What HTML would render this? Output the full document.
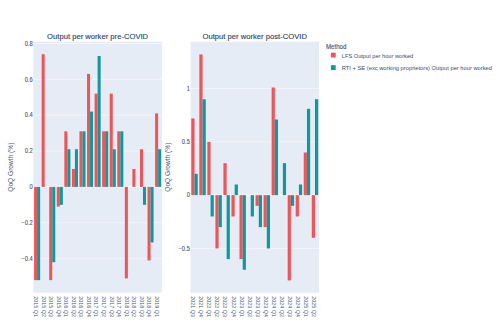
<!DOCTYPE html>
<html><head><meta charset="utf-8"><style>
html,body{margin:0;padding:0;background:#fff;width:500px;height:333px;overflow:hidden}
svg{display:block}
</style></head><body>
<svg width="500" height="333" viewBox="0 0 500 333">
<rect width="500" height="333" fill="#fff"/>
<rect x="33.33" y="41.67" width="128.57" height="251.03" fill="#E5ECF6"/>
<line x1="33.33" x2="161.9" y1="43.46" y2="43.46" stroke="#fff" stroke-width="0.5"/>
<line x1="33.33" x2="161.9" y1="79.32" y2="79.32" stroke="#fff" stroke-width="0.5"/>
<line x1="33.33" x2="161.9" y1="115.18" y2="115.18" stroke="#fff" stroke-width="0.5"/>
<line x1="33.33" x2="161.9" y1="151.04" y2="151.04" stroke="#fff" stroke-width="0.5"/>
<line x1="33.33" x2="161.9" y1="222.76" y2="222.76" stroke="#fff" stroke-width="0.5"/>
<line x1="33.33" x2="161.9" y1="258.62" y2="258.62" stroke="#fff" stroke-width="0.5"/>
<line x1="33.33" x2="161.9" y1="186.90" y2="186.90" stroke="#fff" stroke-width="0.9"/>
<rect x="34.09" y="186.90" width="3.03" height="93.24" fill="#EC5658"/>
<rect x="37.11" y="186.90" width="3.03" height="93.24" fill="#12979B"/>
<rect x="41.65" y="54.22" width="3.03" height="132.68" fill="#EC5658"/>
<rect x="49.21" y="186.90" width="3.03" height="93.24" fill="#EC5658"/>
<rect x="52.24" y="186.90" width="3.03" height="75.31" fill="#12979B"/>
<rect x="56.78" y="186.90" width="3.03" height="19.72" fill="#EC5658"/>
<rect x="59.80" y="186.90" width="3.03" height="17.93" fill="#12979B"/>
<rect x="64.34" y="131.32" width="3.03" height="55.58" fill="#EC5658"/>
<rect x="67.36" y="149.25" width="3.03" height="37.65" fill="#12979B"/>
<rect x="71.90" y="168.97" width="3.03" height="17.93" fill="#EC5658"/>
<rect x="74.93" y="149.25" width="3.03" height="37.65" fill="#12979B"/>
<rect x="79.46" y="131.32" width="3.03" height="55.58" fill="#EC5658"/>
<rect x="82.49" y="131.32" width="3.03" height="55.58" fill="#12979B"/>
<rect x="87.03" y="73.94" width="3.03" height="112.96" fill="#EC5658"/>
<rect x="90.05" y="111.59" width="3.03" height="75.31" fill="#12979B"/>
<rect x="94.59" y="93.66" width="3.03" height="93.24" fill="#EC5658"/>
<rect x="97.61" y="56.01" width="3.03" height="130.89" fill="#12979B"/>
<rect x="102.15" y="131.32" width="3.03" height="55.58" fill="#EC5658"/>
<rect x="105.18" y="131.32" width="3.03" height="55.58" fill="#12979B"/>
<rect x="109.72" y="93.66" width="3.03" height="93.24" fill="#EC5658"/>
<rect x="112.74" y="149.25" width="3.03" height="37.65" fill="#12979B"/>
<rect x="117.28" y="131.32" width="3.03" height="55.58" fill="#EC5658"/>
<rect x="120.30" y="131.32" width="3.03" height="55.58" fill="#12979B"/>
<rect x="124.84" y="186.90" width="3.03" height="91.44" fill="#EC5658"/>
<rect x="132.40" y="168.97" width="3.03" height="17.93" fill="#EC5658"/>
<rect x="139.97" y="149.25" width="3.03" height="37.65" fill="#EC5658"/>
<rect x="142.99" y="186.90" width="3.03" height="17.93" fill="#12979B"/>
<rect x="147.53" y="186.90" width="3.03" height="73.51" fill="#EC5658"/>
<rect x="150.56" y="186.90" width="3.03" height="55.58" fill="#12979B"/>
<rect x="155.09" y="113.39" width="3.03" height="73.51" fill="#EC5658"/>
<rect x="158.12" y="149.25" width="3.03" height="37.65" fill="#12979B"/>
<text x="32.73" y="45.71" text-anchor="end" font-size="6.3" textLength="8.06" lengthAdjust="spacingAndGlyphs" stroke="#4a5a78" stroke-width="0.12" fill="#4a5a78" font-family="Liberation Sans, sans-serif">0.8</text>
<text x="32.73" y="81.57" text-anchor="end" font-size="6.3" textLength="8.06" lengthAdjust="spacingAndGlyphs" stroke="#4a5a78" stroke-width="0.12" fill="#4a5a78" font-family="Liberation Sans, sans-serif">0.6</text>
<text x="32.73" y="117.43" text-anchor="end" font-size="6.3" textLength="8.06" lengthAdjust="spacingAndGlyphs" stroke="#4a5a78" stroke-width="0.12" fill="#4a5a78" font-family="Liberation Sans, sans-serif">0.4</text>
<text x="32.73" y="153.29" text-anchor="end" font-size="6.3" textLength="8.06" lengthAdjust="spacingAndGlyphs" stroke="#4a5a78" stroke-width="0.12" fill="#4a5a78" font-family="Liberation Sans, sans-serif">0.2</text>
<text x="32.73" y="189.15" text-anchor="end" font-size="6.3" textLength="3.22" lengthAdjust="spacingAndGlyphs" stroke="#4a5a78" stroke-width="0.12" fill="#4a5a78" font-family="Liberation Sans, sans-serif">0</text>
<text x="32.73" y="225.01" text-anchor="end" font-size="6.3" textLength="11.45" lengthAdjust="spacingAndGlyphs" stroke="#4a5a78" stroke-width="0.12" fill="#4a5a78" font-family="Liberation Sans, sans-serif">−0.2</text>
<text x="32.73" y="260.87" text-anchor="end" font-size="6.3" textLength="11.45" lengthAdjust="spacingAndGlyphs" stroke="#4a5a78" stroke-width="0.12" fill="#4a5a78" font-family="Liberation Sans, sans-serif">−0.4</text>
<text transform="translate(33.96,296.30) rotate(90)" font-size="6.0" textLength="20.6" lengthAdjust="spacingAndGlyphs" fill="#4a5a78" font-family="Liberation Sans, sans-serif">2015 Q1</text>
<text transform="translate(41.52,296.30) rotate(90)" font-size="6.0" textLength="20.6" lengthAdjust="spacingAndGlyphs" fill="#4a5a78" font-family="Liberation Sans, sans-serif">2015 Q2</text>
<text transform="translate(49.09,296.30) rotate(90)" font-size="6.0" textLength="20.6" lengthAdjust="spacingAndGlyphs" fill="#4a5a78" font-family="Liberation Sans, sans-serif">2015 Q3</text>
<text transform="translate(56.65,296.30) rotate(90)" font-size="6.0" textLength="20.6" lengthAdjust="spacingAndGlyphs" fill="#4a5a78" font-family="Liberation Sans, sans-serif">2015 Q4</text>
<text transform="translate(64.21,296.30) rotate(90)" font-size="6.0" textLength="20.6" lengthAdjust="spacingAndGlyphs" fill="#4a5a78" font-family="Liberation Sans, sans-serif">2016 Q1</text>
<text transform="translate(71.78,296.30) rotate(90)" font-size="6.0" textLength="20.6" lengthAdjust="spacingAndGlyphs" fill="#4a5a78" font-family="Liberation Sans, sans-serif">2016 Q2</text>
<text transform="translate(79.34,296.30) rotate(90)" font-size="6.0" textLength="20.6" lengthAdjust="spacingAndGlyphs" fill="#4a5a78" font-family="Liberation Sans, sans-serif">2016 Q3</text>
<text transform="translate(86.90,296.30) rotate(90)" font-size="6.0" textLength="20.6" lengthAdjust="spacingAndGlyphs" fill="#4a5a78" font-family="Liberation Sans, sans-serif">2016 Q4</text>
<text transform="translate(94.46,296.30) rotate(90)" font-size="6.0" textLength="20.6" lengthAdjust="spacingAndGlyphs" fill="#4a5a78" font-family="Liberation Sans, sans-serif">2017 Q1</text>
<text transform="translate(102.03,296.30) rotate(90)" font-size="6.0" textLength="20.6" lengthAdjust="spacingAndGlyphs" fill="#4a5a78" font-family="Liberation Sans, sans-serif">2017 Q2</text>
<text transform="translate(109.59,296.30) rotate(90)" font-size="6.0" textLength="20.6" lengthAdjust="spacingAndGlyphs" fill="#4a5a78" font-family="Liberation Sans, sans-serif">2017 Q3</text>
<text transform="translate(117.15,296.30) rotate(90)" font-size="6.0" textLength="20.6" lengthAdjust="spacingAndGlyphs" fill="#4a5a78" font-family="Liberation Sans, sans-serif">2017 Q4</text>
<text transform="translate(124.72,296.30) rotate(90)" font-size="6.0" textLength="20.6" lengthAdjust="spacingAndGlyphs" fill="#4a5a78" font-family="Liberation Sans, sans-serif">2018 Q1</text>
<text transform="translate(132.28,296.30) rotate(90)" font-size="6.0" textLength="20.6" lengthAdjust="spacingAndGlyphs" fill="#4a5a78" font-family="Liberation Sans, sans-serif">2018 Q2</text>
<text transform="translate(139.84,296.30) rotate(90)" font-size="6.0" textLength="20.6" lengthAdjust="spacingAndGlyphs" fill="#4a5a78" font-family="Liberation Sans, sans-serif">2018 Q3</text>
<text transform="translate(147.41,296.30) rotate(90)" font-size="6.0" textLength="20.6" lengthAdjust="spacingAndGlyphs" fill="#4a5a78" font-family="Liberation Sans, sans-serif">2018 Q4</text>
<text transform="translate(154.97,296.30) rotate(90)" font-size="6.0" textLength="20.6" lengthAdjust="spacingAndGlyphs" fill="#4a5a78" font-family="Liberation Sans, sans-serif">2019 Q1</text>
<text x="97.62" y="39.35" text-anchor="middle" font-size="7.65" fill="#2f4262" stroke="#2f4262" stroke-width="0.12" font-family="Liberation Sans, sans-serif">Output per worker pre-COVID</text>
<text transform="translate(12.73,167.19) rotate(-90)" text-anchor="middle" font-size="6.6" fill="#4a5a78" font-family="Liberation Sans, sans-serif">QoQ Growth (%)</text>
<rect x="190.5" y="41.67" width="128.50" height="251.03" fill="#E5ECF6"/>
<line x1="190.5" x2="319.0" y1="88.55" y2="88.55" stroke="#fff" stroke-width="0.5"/>
<line x1="190.5" x2="319.0" y1="141.85" y2="141.85" stroke="#fff" stroke-width="0.5"/>
<line x1="190.5" x2="319.0" y1="248.45" y2="248.45" stroke="#fff" stroke-width="0.5"/>
<line x1="190.5" x2="319.0" y1="195.15" y2="195.15" stroke="#fff" stroke-width="0.9"/>
<rect x="191.30" y="118.40" width="3.21" height="76.75" fill="#EC5658"/>
<rect x="194.52" y="173.83" width="3.21" height="21.32" fill="#12979B"/>
<rect x="199.33" y="54.44" width="3.21" height="140.71" fill="#EC5658"/>
<rect x="202.55" y="99.21" width="3.21" height="95.94" fill="#12979B"/>
<rect x="207.37" y="141.85" width="3.21" height="53.30" fill="#EC5658"/>
<rect x="210.58" y="195.15" width="3.21" height="21.32" fill="#12979B"/>
<rect x="215.40" y="195.15" width="3.21" height="53.30" fill="#EC5658"/>
<rect x="218.61" y="195.15" width="3.21" height="31.98" fill="#12979B"/>
<rect x="223.43" y="163.17" width="3.21" height="31.98" fill="#EC5658"/>
<rect x="226.64" y="195.15" width="3.21" height="63.96" fill="#12979B"/>
<rect x="231.46" y="195.15" width="3.21" height="21.32" fill="#EC5658"/>
<rect x="234.67" y="184.49" width="3.21" height="10.66" fill="#12979B"/>
<rect x="239.49" y="195.15" width="3.21" height="63.96" fill="#EC5658"/>
<rect x="242.70" y="195.15" width="3.21" height="74.62" fill="#12979B"/>
<rect x="250.73" y="195.15" width="3.21" height="21.32" fill="#12979B"/>
<rect x="255.55" y="195.15" width="3.21" height="10.66" fill="#EC5658"/>
<rect x="258.77" y="195.15" width="3.21" height="31.98" fill="#12979B"/>
<rect x="263.58" y="195.15" width="3.21" height="31.98" fill="#EC5658"/>
<rect x="266.80" y="195.15" width="3.21" height="53.30" fill="#12979B"/>
<rect x="271.62" y="87.48" width="3.21" height="107.67" fill="#EC5658"/>
<rect x="274.83" y="119.46" width="3.21" height="75.69" fill="#12979B"/>
<rect x="282.86" y="163.17" width="3.21" height="31.98" fill="#12979B"/>
<rect x="287.68" y="195.15" width="3.21" height="85.28" fill="#EC5658"/>
<rect x="290.89" y="195.15" width="3.21" height="10.66" fill="#12979B"/>
<rect x="295.71" y="195.15" width="3.21" height="21.32" fill="#EC5658"/>
<rect x="298.92" y="184.49" width="3.21" height="10.66" fill="#12979B"/>
<rect x="303.74" y="152.51" width="3.21" height="42.64" fill="#EC5658"/>
<rect x="306.95" y="108.80" width="3.21" height="86.35" fill="#12979B"/>
<rect x="311.77" y="195.15" width="3.21" height="42.64" fill="#EC5658"/>
<rect x="314.98" y="99.21" width="3.21" height="95.94" fill="#12979B"/>
<text x="189.90" y="90.80" text-anchor="end" font-size="6.3" textLength="3.22" lengthAdjust="spacingAndGlyphs" stroke="#4a5a78" stroke-width="0.12" fill="#4a5a78" font-family="Liberation Sans, sans-serif">1</text>
<text x="189.90" y="144.10" text-anchor="end" font-size="6.3" textLength="8.06" lengthAdjust="spacingAndGlyphs" stroke="#4a5a78" stroke-width="0.12" fill="#4a5a78" font-family="Liberation Sans, sans-serif">0.5</text>
<text x="189.90" y="197.40" text-anchor="end" font-size="6.3" textLength="3.22" lengthAdjust="spacingAndGlyphs" stroke="#4a5a78" stroke-width="0.12" fill="#4a5a78" font-family="Liberation Sans, sans-serif">0</text>
<text x="189.90" y="250.70" text-anchor="end" font-size="6.3" textLength="11.45" lengthAdjust="spacingAndGlyphs" stroke="#4a5a78" stroke-width="0.12" fill="#4a5a78" font-family="Liberation Sans, sans-serif">−0.5</text>
<text transform="translate(191.37,296.30) rotate(90)" font-size="6.0" textLength="20.6" lengthAdjust="spacingAndGlyphs" fill="#4a5a78" font-family="Liberation Sans, sans-serif">2021 Q3</text>
<text transform="translate(199.40,296.30) rotate(90)" font-size="6.0" textLength="20.6" lengthAdjust="spacingAndGlyphs" fill="#4a5a78" font-family="Liberation Sans, sans-serif">2021 Q4</text>
<text transform="translate(207.43,296.30) rotate(90)" font-size="6.0" textLength="20.6" lengthAdjust="spacingAndGlyphs" fill="#4a5a78" font-family="Liberation Sans, sans-serif">2022 Q1</text>
<text transform="translate(215.46,296.30) rotate(90)" font-size="6.0" textLength="20.6" lengthAdjust="spacingAndGlyphs" fill="#4a5a78" font-family="Liberation Sans, sans-serif">2022 Q2</text>
<text transform="translate(223.49,296.30) rotate(90)" font-size="6.0" textLength="20.6" lengthAdjust="spacingAndGlyphs" fill="#4a5a78" font-family="Liberation Sans, sans-serif">2022 Q3</text>
<text transform="translate(231.52,296.30) rotate(90)" font-size="6.0" textLength="20.6" lengthAdjust="spacingAndGlyphs" fill="#4a5a78" font-family="Liberation Sans, sans-serif">2022 Q4</text>
<text transform="translate(239.55,296.30) rotate(90)" font-size="6.0" textLength="20.6" lengthAdjust="spacingAndGlyphs" fill="#4a5a78" font-family="Liberation Sans, sans-serif">2023 Q1</text>
<text transform="translate(247.58,296.30) rotate(90)" font-size="6.0" textLength="20.6" lengthAdjust="spacingAndGlyphs" fill="#4a5a78" font-family="Liberation Sans, sans-serif">2023 Q2</text>
<text transform="translate(255.62,296.30) rotate(90)" font-size="6.0" textLength="20.6" lengthAdjust="spacingAndGlyphs" fill="#4a5a78" font-family="Liberation Sans, sans-serif">2023 Q3</text>
<text transform="translate(263.65,296.30) rotate(90)" font-size="6.0" textLength="20.6" lengthAdjust="spacingAndGlyphs" fill="#4a5a78" font-family="Liberation Sans, sans-serif">2023 Q4</text>
<text transform="translate(271.68,296.30) rotate(90)" font-size="6.0" textLength="20.6" lengthAdjust="spacingAndGlyphs" fill="#4a5a78" font-family="Liberation Sans, sans-serif">2024 Q1</text>
<text transform="translate(279.71,296.30) rotate(90)" font-size="6.0" textLength="20.6" lengthAdjust="spacingAndGlyphs" fill="#4a5a78" font-family="Liberation Sans, sans-serif">2024 Q2</text>
<text transform="translate(287.74,296.30) rotate(90)" font-size="6.0" textLength="20.6" lengthAdjust="spacingAndGlyphs" fill="#4a5a78" font-family="Liberation Sans, sans-serif">2024 Q3</text>
<text transform="translate(295.77,296.30) rotate(90)" font-size="6.0" textLength="20.6" lengthAdjust="spacingAndGlyphs" fill="#4a5a78" font-family="Liberation Sans, sans-serif">2024 Q4</text>
<text transform="translate(303.80,296.30) rotate(90)" font-size="6.0" textLength="20.6" lengthAdjust="spacingAndGlyphs" fill="#4a5a78" font-family="Liberation Sans, sans-serif">2025 Q1</text>
<text transform="translate(311.83,296.30) rotate(90)" font-size="6.0" textLength="20.6" lengthAdjust="spacingAndGlyphs" fill="#4a5a78" font-family="Liberation Sans, sans-serif">2025 Q2</text>
<text x="254.75" y="39.35" text-anchor="middle" font-size="7.65" fill="#2f4262" stroke="#2f4262" stroke-width="0.12" font-family="Liberation Sans, sans-serif">Output per worker post-COVID</text>
<text transform="translate(169.90,167.19) rotate(-90)" text-anchor="middle" font-size="6.6" fill="#4a5a78" font-family="Liberation Sans, sans-serif">QoQ Growth (%)</text>
<text x="326" y="49.1" font-size="6.3" textLength="20.4" lengthAdjust="spacingAndGlyphs" fill="#3a4b6a" stroke="#3a4b6a" stroke-width="0.1" font-family="Liberation Sans, sans-serif">Method</text>
<rect x="330.9" y="52.7" width="4.8" height="4.8" fill="#EC5658"/>
<text x="341.8" y="57.5" font-size="6.0" textLength="71.4" lengthAdjust="spacingAndGlyphs" fill="#3a4b6a" font-family="Liberation Sans, sans-serif">LFS Output per hour worked</text>
<rect x="330.9" y="65.2" width="4.8" height="4.8" fill="#12979B"/>
<text x="341.8" y="70.0" font-size="6.0" textLength="150.2" lengthAdjust="spacingAndGlyphs" fill="#3a4b6a" font-family="Liberation Sans, sans-serif">RTI + SE (exc working proprietors) Output per hour worked</text>
</svg></body></html>
